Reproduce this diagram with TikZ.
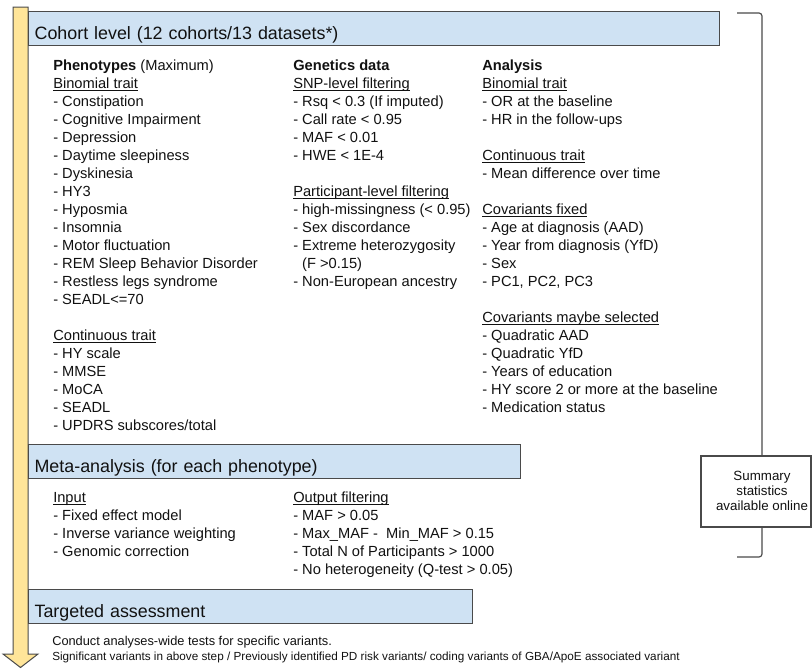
\documentclass[tikz,border=0pt]{standalone}
\usepackage{fontspec}
\setmainfont{Liberation Sans}
\definecolor{boxblue}{HTML}{CFE2F3}
\definecolor{arrowyel}{HTML}{FFE599}
\definecolor{edge}{HTML}{4A4A4A}
\definecolor{ink}{HTML}{111111}
\newcommand{\und}[1]{\setbox0=\hbox{#1}\rlap{\rule[-1.6pt]{\wd0}{0.5pt}}\box0}
\begin{document}
\begin{tikzpicture}[x=0.75pt,y=-0.75pt,
  hdr/.style={draw=edge, fill=boxblue, line width=0.9pt, anchor=north west,
    inner xsep=4.5pt, inner ysep=0pt, minimum height=25.5pt,
    text height=21pt, text depth=4.5pt, align=left, text=ink,
    font=\fontsize{13.4pt}{16pt}\selectfont},
  col/.style={anchor=north west, inner sep=0pt, align=left, text=ink,
    font=\fontsize{11pt}{13.5pt}\selectfont},
  note/.style={anchor=base west, inner sep=0pt, text=ink},
  brk/.style={draw=edge, line width=0.9pt, rounded corners=2.25pt},
  arrowsty/.style={draw=edge, fill=arrowyel, line width=0.75pt, line join=miter}
]
\useasboundingbox (0,0) rectangle (812,668);
% progress arrow
\draw[arrowsty] (13,7) -- (28,7) -- (28,654) -- (38,654) -- (20.5,667.5) -- (3,654) -- (13,654) -- cycle;

% section headers
\node[hdr, text width=509.25pt] (cohort) at (28,11) {Cohort level (12 cohorts/13 datasets*)};
\node[hdr, text width=360pt] (meta) at (28,444) {Meta-analysis (for each phenotype)};
\node[hdr, text width=324pt] (target) at (28,589) {Targeted assessment};

% cohort level columns
\node[col] (pheno) at (53,57.4) {\strut\textbf{Phenotypes} (Maximum)\\
\und{Binomial trait}\\
- Constipation\\
- Cognitive Impairment\\
- Depression\\
- Daytime sleepiness\\
- Dyskinesia\\
- HY3\\
- Hyposmia\\
- Insomnia\\
- Motor fluctuation\\
- REM Sleep Behavior Disorder\\
- Restless legs syndrome\\
- SEADL<=70\\[13.5pt]
\und{Continuous trait}\\
- HY scale\\
- MMSE\\
- MoCA\\
- SEADL\\
- UPDRS subscores/total};

\node[col] (genet) at (293,57.4) {\strut\textbf{Genetics data}\\
\und{SNP-level filtering}\\
- Rsq < 0.3 (If imputed)\\
- Call rate < 0.95\\
- MAF < 0.01\\
- HWE < 1E-4\\[13.5pt]
\und{Participant-level filtering}\\
- high-missingness (< 0.95)\\
- Sex discordance\\
- Extreme heterozygosity\\
\hphantom{-\ }(F >0.15)\\
- Non-European ancestry};

\node[col] (anal) at (482,57.4) {\strut\textbf{Analysis}\\
\und{Binomial trait}\\
- OR at the baseline\\
- HR in the follow-ups\\[13.5pt]
\und{Continuous trait}\\
- Mean difference over time\\[13.5pt]
\und{Covariants fixed}\\
- Age at diagnosis (AAD)\\
- Year from diagnosis (YfD)\\
- Sex\\
- PC1, PC2, PC3\\[13.5pt]
\und{Covariants maybe selected}\\
- Quadratic AAD\\
- Quadratic YfD\\
- Years of education\\
- HY score 2 or more at the baseline\\
- Medication status};

% meta-analysis columns
\node[col] (metain) at (53,489.4) {\strut\und{Input}\\
- Fixed effect model\\
- Inverse variance weighting\\
- Genomic correction};

\node[col] (metaout) at (293,489.4) {\strut\und{Output filtering}\\
- MAF > 0.05\\
- Max\_MAF -~ Min\_MAF > 0.15\\
- Total N of Participants > 1000\\
- No heterogeneity (Q-test > 0.05)};

% targeted assessment text
\node[note, font=\fontsize{9.6pt}{11pt}\selectfont] (conduct) at (52,645) {Conduct analyses-wide tests for specific variants.};
\node[note, font=\fontsize{8.8pt}{10pt}\selectfont] (signif) at (52,660) {Significant variants in above step / Previously identified PD risk variants/ coding variants of GBA/ApoE associated variant};

% summary box and bracket
\node[draw=edge, fill=white, line width=0.9pt, minimum width=82.5pt, minimum height=53.25pt, inner sep=0pt] (summary) at (756,491.5) {};
\node[align=center, inner sep=0pt, text=ink, font=\fontsize{10pt}{11.25pt}\selectfont] (sumtext) at (762,491) {Summary\\statistics\\available online};
\coordinate (btop) at (737,13);
\coordinate (bbot) at (737,557);
\draw[brk] (btop) -| (summary.north -| sumtext.center);
\draw[brk] (summary.south -| sumtext.center) |- (bbot);
\end{tikzpicture}
\end{document}
